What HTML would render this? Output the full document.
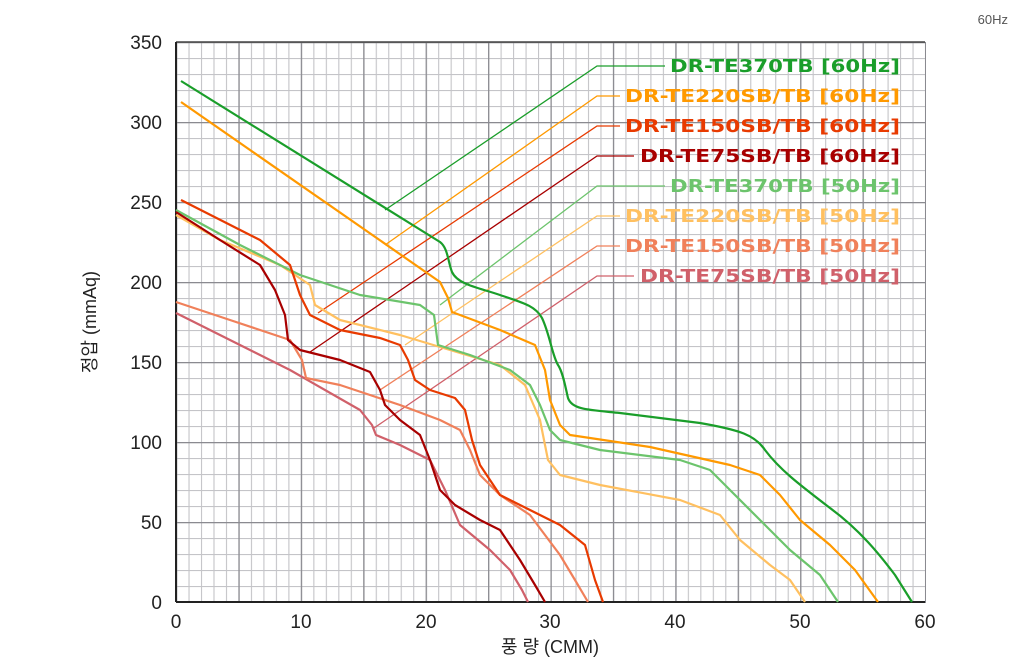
<!DOCTYPE html>
<html><head><meta charset="utf-8"><style>
body{margin:0;background:#fff;width:1024px;height:660px;overflow:hidden;font-family:"Liberation Sans","Noto Sans CJK KR",sans-serif}
</style></head><body>
<svg width="1024" height="660" xmlns="http://www.w3.org/2000/svg" font-family="Liberation Sans, Noto Sans CJK KR, sans-serif">
<defs>
<pattern id="mi" patternUnits="userSpaceOnUse" x="176" y="42" width="12.483" height="16">
<line x1="0.5" y1="0" x2="0.5" y2="16" stroke="#c4c4c8" stroke-width="1.2"/>
<line x1="0" y1="0.5" x2="12.483" y2="0.5" stroke="#c4c4c8" stroke-width="1.2"/>
</pattern>
<pattern id="ma" patternUnits="userSpaceOnUse" x="176" y="42" width="62.415" height="80">
<line x1="0.6" y1="0" x2="0.6" y2="80" stroke="#8a8a90" stroke-width="1.3"/>
<line x1="0" y1="0.6" x2="62.415" y2="0.6" stroke="#8a8a90" stroke-width="1.3"/>
</pattern>
</defs>
<rect width="1024" height="660" fill="#fff"/>
<rect x="176" y="42" width="750" height="561" fill="url(#mi)"/>
<rect x="176" y="42" width="750" height="561" fill="url(#ma)"/>
<line x1="176" y1="42" x2="925" y2="42" stroke="#444" stroke-width="1.5"/>
<line x1="176" y1="42" x2="176" y2="602" stroke="#222" stroke-width="2"/>
<line x1="176" y1="602" x2="925" y2="602" stroke="#222" stroke-width="2"/>
<g font-size="19" fill="#222" text-anchor="end">
<text x="162" y="49">350</text><text x="162" y="129">300</text><text x="162" y="209">250</text><text x="162" y="289">200</text><text x="162" y="369">150</text><text x="162" y="449">100</text><text x="162" y="529">50</text><text x="162" y="609">0</text>
</g>
<g font-size="19" fill="#222" text-anchor="middle">
<text x="176" y="628">0</text><text x="301" y="628">10</text><text x="426" y="628">20</text><text x="550" y="628">30</text><text x="675" y="628">40</text><text x="800" y="628">50</text><text x="925" y="628">60</text>
</g>
<text x="550" y="653" font-size="18" fill="#222" text-anchor="middle">풍 량 (CMM)</text>
<text transform="translate(96,322) rotate(-90)" font-size="18" fill="#222" text-anchor="middle">정압 (mmAq)</text>
<text x="1008" y="24" font-size="13" fill="#555" text-anchor="end">60Hz</text>
<g fill="none" stroke-width="1.3">
<polyline stroke="#1a9e2a" points="385,210 597,66 665,66"/>
<polyline stroke="#ff9900" points="385,245 597,96 620,96"/>
<polyline stroke="#e83a00" points="318,313 597,126 620,126"/>
<polyline stroke="#a80000" points="310,352 597,156 634,156"/>
<polyline stroke="#6cc46c" points="440,305 597,186 665,186"/>
<polyline stroke="#ffc060" points="405,345 597,216 620,216"/>
<polyline stroke="#f0805a" points="380,390 597,246 620,246"/>
<polyline stroke="#d0606a" points="374,428 597,276 634,276"/>
</g>
<g fill="none" stroke-width="2.2" stroke-linejoin="round">
<polyline stroke="#d0606a" points="176,313 230,340 290,370 360,410 372,425 376,435 400,445 430,460 445,490 460,525 490,550 510,570 522,590 528,602"/>
<polyline stroke="#f0805a" points="176,302 230,320 290,340 302,360 306,378 340,385 400,405 440,420 460,430 470,450 480,475 500,495 530,515 560,555 575,580 588,602"/>
<polyline stroke="#ffc060" points="176,215 220,240 280,265 310,285 315,305 340,320 400,335 450,350 500,365 525,385 540,420 548,460 560,475 600,485 680,500 720,515 740,540 770,565 790,580 805,602"/>
<polyline stroke="#6cc46c" points="176,210 240,245 300,275 360,295 420,305 434,315 438,345 470,355 510,370 530,385 540,405 550,430 560,440 600,450 680,460 710,470 730,490 760,520 790,550 820,575 838,602"/>
<polyline stroke="#a80000" points="176,212 220,240 260,265 275,290 285,315 288,340 300,350 340,360 370,372 380,390 385,405 400,420 420,435 430,460 440,490 455,505 480,520 500,530 510,545 520,560 535,585 545,602"/>
<polyline stroke="#e83a00" points="181,200 260,240 290,265 300,295 310,315 340,330 380,338 400,345 408,360 415,380 430,390 455,398 465,410 472,440 480,465 500,495 530,510 560,525 585,545 595,580 603,602"/>
<polyline stroke="#ff9900" points="181,102 440,282 448,298 452,312 500,330 535,345 545,370 550,400 560,425 570,435 650,447 730,465 760,475 780,495 800,520 830,545 855,570 878,602"/>
<path stroke="#1a9e2a" d="M181,81 L440,242 C448,248 448,262 452,272 C458,285 480,288 500,295 C520,302 535,305 542,318 C550,335 552,355 558,365 C563,372 566,390 568,398 C572,410 590,410 620,413 L700,423 C740,430 755,435 765,450 C780,470 800,485 830,508 C860,530 880,555 895,575 L912,602"/>
</g>
<g font-size="18" font-weight="bold" font-family="DejaVu Sans, sans-serif">
<text x="670" y="72" textLength="230" lengthAdjust="spacingAndGlyphs" fill="#1a9e2a">DR-TE370TB [60Hz]</text>
<text x="625" y="102" textLength="275" lengthAdjust="spacingAndGlyphs" fill="#ff9900">DR-TE220SB/TB [60Hz]</text>
<text x="625" y="132" textLength="275" lengthAdjust="spacingAndGlyphs" fill="#e83a00">DR-TE150SB/TB [60Hz]</text>
<text x="640" y="162" textLength="260" lengthAdjust="spacingAndGlyphs" fill="#a80000">DR-TE75SB/TB [60Hz]</text>
<text x="670" y="192" textLength="230" lengthAdjust="spacingAndGlyphs" fill="#6cc46c">DR-TE370TB [50Hz]</text>
<text x="625" y="222" textLength="275" lengthAdjust="spacingAndGlyphs" fill="#ffc060">DR-TE220SB/TB [50Hz]</text>
<text x="625" y="252" textLength="275" lengthAdjust="spacingAndGlyphs" fill="#f0805a">DR-TE150SB/TB [50Hz]</text>
<text x="640" y="282" textLength="260" lengthAdjust="spacingAndGlyphs" fill="#d0606a">DR-TE75SB/TB [50Hz]</text>
</g>
</svg>
</body></html>
